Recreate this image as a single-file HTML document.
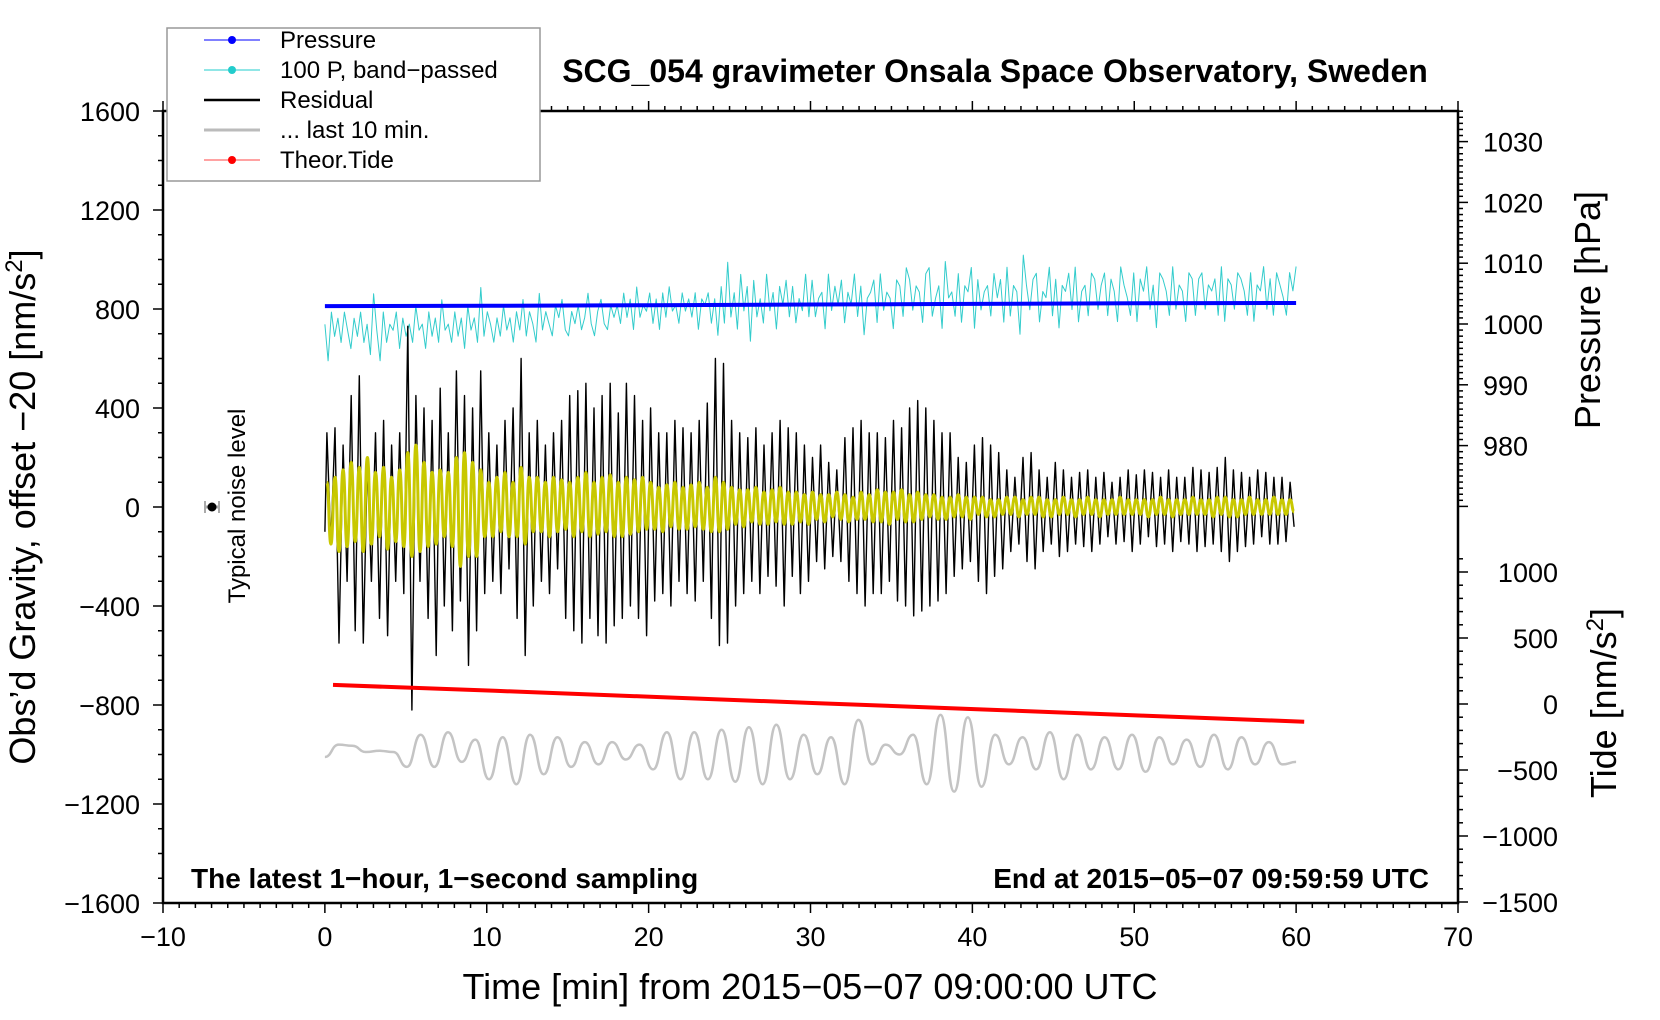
<!DOCTYPE html>
<html><head><meta charset="utf-8"><style>
html,body{margin:0;padding:0;background:#fff}
svg{display:block;font-family:"Liberation Sans",Arial,sans-serif}
</style></head><body>
<svg id="chart" width="1660" height="1020" viewBox="0 0 1660 1020" xmlns="http://www.w3.org/2000/svg">
<rect width="1660" height="1020" fill="#fff"/>
<g id="series"></g>
<g id="axes"></g>
<rect x="163" y="111" width="1295" height="792" fill="none" stroke="#000" stroke-width="2.5"/>
<text x="995" y="82" font-size="32" font-weight="bold" text-anchor="middle">SCG_054 gravimeter Onsala Space Observatory, Sweden</text>
<text x="191" y="888" font-size="28" font-weight="bold">The latest 1−hour, 1−second sampling</text>
<text x="1429" y="888" font-size="28" font-weight="bold" text-anchor="end">End at 2015−05−07 09:59:59 UTC</text>
<text x="810" y="999" font-size="36" text-anchor="middle">Time [min] from 2015−05−07 09:00:00 UTC</text>
<text transform="translate(35,507) rotate(-90)" font-size="36" text-anchor="middle">Obs’d Gravity, offset −20 [nm/s<tspan dy="-13" font-size="24">2</tspan><tspan dy="13">]</tspan></text>
<text transform="translate(1600,310) rotate(-90)" font-size="36" text-anchor="middle">Pressure [hPa]</text>
<text transform="translate(1616,703) rotate(-90)" font-size="36" text-anchor="middle">Tide [nm/s<tspan dy="-13" font-size="24">2</tspan><tspan dy="13">]</tspan></text>
<g>
<line x1="205" y1="507" x2="219" y2="507" stroke="#aaa" stroke-width="3"/>
<line x1="205" y1="501" x2="205" y2="513" stroke="#aaa" stroke-width="2"/>
<line x1="219" y1="501" x2="219" y2="513" stroke="#aaa" stroke-width="2"/>
<circle cx="212" cy="507" r="4.5" fill="#000"/>
<text transform="translate(245,506) rotate(-90)" font-size="24" text-anchor="middle">Typical noise level</text>
</g>
<g>
<rect x="167" y="28" width="373" height="153" fill="#fff" stroke="#999" stroke-width="1.5"/>
<g><line x1="204" y1="40" x2="260" y2="40" stroke="#00f" stroke-width="1"/><circle cx="232" cy="40" r="4" fill="#00f"/><text x="280" y="48" font-size="24">Pressure</text></g>
<g><line x1="204" y1="70" x2="260" y2="70" stroke="#2cc" stroke-width="1"/><circle cx="232" cy="70" r="4" fill="#2cc"/><text x="280" y="78" font-size="24">100 P, band−passed</text></g>
<g><line x1="204" y1="100" x2="260" y2="100" stroke="#000" stroke-width="2.5"/><text x="280" y="108" font-size="24">Residual</text></g>
<g><line x1="204" y1="130" x2="260" y2="130" stroke="#bbb" stroke-width="3"/><text x="280" y="138" font-size="24">... last 10 min.</text></g>
<g><line x1="204" y1="160" x2="260" y2="160" stroke="#f44" stroke-width="1"/><circle cx="232" cy="160" r="4" fill="#f00"/><text x="280" y="168" font-size="24">Theor.Tide</text></g>
</g>
</svg>
<script>
// ---- data ----
const xTickLabels = [-10,0,10,20,30,40,50,60,70];
const gTickLabels = [-1600,-1200,-800,-400,0,400,800,1200,1600];
const pTickLabels = [980,990,1000,1010,1020,1030];
const tTickLabels = [-1500,-1000,-500,0,500,1000];
// pressure (hPa) every 10 min, 0..60
const pressureTimes = [0,10,20,30,40,50,60];
const pressureVals = [1002.95,1003.0,1003.1,1003.2,1003.3,1003.4,1003.45];
// theoretical tide (nm/s2) at times
const tideTimes = [0.5,10.5,20.5,30.5,40.5,50.5,60.5];
const tideVals = [145,100,53,6,-41,-88,-134];
// residual extremes, units of 10 nm/s2, 4 per minute
const residualVals = [
30,-15,32,-55, 25,-30,45,-50, 53,-55,20,-30, 30,-45,35,-52, 25,-30,30,-35,
73,-82,45,-30, 40,-45,35,-60, 48,-40,30,-50, 55,-38,45,-64, 40,-50,55,-35,
30,-30,25,-35, 35,-25,40,-45, 60,-60,30,-40, 35,-30,25,-35, 30,-25,35,-45,
45,-50,47,-55, 50,-45,40,-52, 45,-55,50,-48, 38,-45,50,-40, 45,-45,35,-52,
40,-38,30,-35, 30,-40,35,-30, 32,-35,30,-38, 35,-30,42,-45, 60,-56,58,-55,
35,-40,30,-35, 28,-30,32,-35, 25,-28,30,-32, 35,-40,32,-28, 30,-35,25,-30,
20,-22,25,-25, 18,-20,15,-22, 28,-30,32,-35, 35,-40,30,-35, 30,-35,28,-30,
35,-38,32,-40, 40,-44,43,-42, 40,-40,35,-38, 30,-35,30,-28, 20,-25,18,-22,
25,-30,28,-35, 25,-28,22,-25, 15,-18,12,-15, 20,-22,22,-25, 15,-18,12,-15,
18,-20,15,-18, 12,-15,14,-16, 15,-18,12,-15, 14,-12,10,-15, 12,-14,15,-18,
13,-15,15,-12, 14,-16,12,-15, 15,-18,12,-14, 12,-15,16,-18, 15,-16,14,-15,
16,-18,20,-22, 15,-18,14,-16, 12,-15,15,-12, 14,-15,12,-15, 12,-14,10,-8];
// filtered (yellow) extremes, units of 10 nm/s2, 4 per minute
const yellowVals = [
10,-15,12,-18, 15,-16,18,-14, 16,-18,20,-15, 14,-12,16,-17, 12,-14,15,-16,
22,-20,25,-18, 18,-16,14,-15, 15,-12,14,-16, 20,-24,22,-20, 18,-20,15,-12,
10,-12,12,-10, 14,-12,10,-12, 16,-15,12,-10, 12,-10,10,-12, 12,-10,11,-9,
10,-12,12,-10, 14,-12,10,-11, 12,-10,13,-12, 10,-12,12,-11, 11,-10,12,-9,
10,-9,8,-10, 9,-8,10,-9, 8,-9,9,-8, 10,-9,8,-10, 12,-10,10,-9,
8,-7,7,-8, 7,-6,8,-7, 6,-7,7,-6, 8,-7,6,-7, 6,-6,5,-7,
6,-5,5,-6, 5,-4,6,-5, 5,-6,4,-5, 6,-5,5,-6, 7,-6,6,-7,
6,-5,7,-6, 5,-6,6,-5, 5,-4,5,-5, 4,-5,4,-4, 5,-4,4,-5,
4,-3,4,-4, 3,-4,3,-3, 4,-3,4,-4, 3,-3,4,-3, 4,-4,3,-4,
3,-3,4,-3, 3,-4,3,-3, 4,-3,3,-4, 3,-3,3,-3, 4,-3,3,-3,
3,-3,3,-4, 3,-3,4,-3, 3,-4,3,-3, 3,-3,4,-3, 3,-3,3,-4,
4,-3,4,-4, 3,-4,3,-3, 4,-3,3,-3, 3,-3,4,-3, 3,-3,3,-2];
// last 10 min (gray), nm/s2 absolute, 72 points over 0..60 min
const lastVals = [-1010,-960,-965,-990,-985,-990,-1050,-920,-1050,-910,-1030,-940,-1100,-930,-1120,-920,-1080,-930,-1050,-950,-1040,-950,-1020,-960,-1060,-910,-1100,-910,-1100,-900,-1110,-890,-1120,-880,-1100,-920,-1080,-930,-1120,-860,-1040,-960,-1000,-920,-1120,-840,-1150,-850,-1130,-920,-1040,-930,-1060,-910,-1100,-920,-1060,-930,-1060,-920,-1070,-930,-1040,-940,-1050,-920,-1060,-930,-1040,-950,-1040,-1030];
// band-passed pressure x100 deviation from pressure line (hPa), 3 per minute
const cyanVals = [
-3,-9,-1, -5,-2,-6, -1,-4,-7, -2,-5,-1, -6,-3,-8, 2,-4,-9, -1,-6,-3, -4,-1,-7, -2,-5,-3, -6,0,-4,
-3,-7,-1, -5,-2,-6, 1,-4,-3, -6,-1,-5, -2,-7,0, -4,-2,-6, 3,-5,-1, -3,-6,-2, -5,0,-4, -2,-6,-1,
-4,1,-5, -1,-3,-6, 2,-4,-1, -3,-5,0, -2,1,-4, -5,-1,-3, 0,-4,-2, 2,-3,-5, -1,1,-3, -4,0,-2,
0,-3,2, -2,1,-4, 3,-2,0, -1,2,-3, 1,-4,2, -2,3,-1, 0,-3,2, -1,1,-2, 2,-4,1, 0,2,-3,
1,-5,3, -3,7,-2, 2,-4,5, -1,3,-6, 4,-2,1, -3,5,-1, 2,-4,3, 0,4,-2, 3,-3,1, -1,5,-2,
4,-2,1, 2,-4,5, -1,3,0, 4,-3,2, 0,5,-2, 3,-5,1, 2,4,-3, 5,-1,2, 1,-4,4, 3,-2,6,
4,-1,3, 2,-3,5, 6,-2,1, 3,-4,7, 1,2,-2, 5,-3,3, 2,6,-4, 4,-1,2, 3,-2,5, 1,4,-3,
6,-2,3, 2,-5,8, 3,-1,4, 5,-3,2, 1,6,-2, 4,-4,3, 2,5,-1, 6,-3,2, 3,-2,5, 4,-1,3,
5,-2,4, 2,-3,6, 3,1,-2, 5,-3,4, 2,6,-1, 3,-4,5, 4,2,-2, 6,-1,3, 2,-3,5, 4,-2,4,
5,-1,3, 2,4,-2, 6,-3,4, 3,-1,5, 4,2,-2, 5,-3,3, 2,6,-1, 4,-2,5, 3,1,-2, 5,2,6];

// ---- scales ----
const X = t => 163 + (t + 10) * 1295 / 80;
const YG = g => 507 - g * 792 / 3200;
const YP = p => 324 - (p - 1000) * 6.08;
const YT = v => 704 - v * 0.132;
const NS = 'http://www.w3.org/2000/svg';
const series = document.getElementById('series');
const axes = document.getElementById('axes');
function mk(tag, parent, attrs) { const e = document.createElementNS(NS, tag); for (const k in attrs) e.setAttribute(k, attrs[k]); parent.appendChild(e); return e; }
function poly(pts, stroke, w, name) {
  const e = mk('polyline', series, {points: pts.map(p => p[0].toFixed(1) + ',' + p[1].toFixed(1)).join(' '), fill: 'none', stroke: stroke, 'stroke-width': w, 'stroke-linejoin': 'round'});
  
  
}
function smooth(pts, stroke, w, name) {
  let d = 'M' + pts[0][0].toFixed(1) + ',' + pts[0][1].toFixed(1);
  for (let i = 1; i < pts.length; i++) {
    const a = pts[i - 1], b = pts[i], mx = (a[0] + b[0]) / 2;
    d += ' C' + mx.toFixed(1) + ',' + a[1].toFixed(1) + ' ' + mx.toFixed(1) + ',' + b[1].toFixed(1) + ' ' + b[0].toFixed(1) + ',' + b[1].toFixed(1);
  }
  const e = mk('path', series, {d: d, fill: 'none', stroke: stroke, 'stroke-width': w});
  
  
}
// gray last-10-min
smooth(lastVals.map((v, i) => [X(i * 60 / (lastVals.length - 1)), YG(v)]), '#c4c4c4', 2.5, 'last-10-min-line');
// cyan
const nC = cyanVals.length;
poly(cyanVals.map((v, i) => { const t = i * 60 / (nC - 1); const k = Math.min(5, Math.floor(t / 10)); const p = pressureVals[k] + (pressureVals[k + 1] - pressureVals[k]) * (t - pressureTimes[k]) / 10; return [X(t), YP(p + v)]; }), '#3cc', 1, 'bandpassed-pressure-line');
// residual
poly([[X(0), YG(-100)]].concat(residualVals.map((v, i) => [X((i + 0.5) * 0.25), YG(v * 10)])), '#000', 1.4, 'residual-line');
// yellow
smooth(yellowVals.map((v, i) => [X((i + 0.5) * 0.25), YG(v * 10)]), '#c8c800', 3, 'filtered-residual-line');
// pressure
poly(pressureVals.map((v, i) => [X(pressureTimes[i]), YP(v)]), '#00f', 4, 'pressure-line');
// tide
poly(tideVals.map((v, i) => [X(tideTimes[i]), YT(v)]), '#f00', 4, 'tide-line');

// ---- axes ----
function tick(x1, y1, x2, y2) { mk('line', axes, {x1, y1, x2, y2, stroke: '#000', 'stroke-width': 1.5}); }
function label(x, y, txt, anchor, name) {
  const e = mk('text', axes, {x, y, 'font-size': 27, 'text-anchor': anchor});
  e.textContent = String(txt).replace('-', '−');
  
  
}
for (let t = -10; t <= 70; t++) { const x = X(t); const L = t % 10 === 0 ? 10 : 5; tick(x, 903, x, 903 + L); tick(x, 111, x, 111 - L); }
xTickLabels.forEach(t => label(X(t), 946, t, 'middle', 'x-tick-label'));
for (let g = -1600; g <= 1600; g += 100) { const y = YG(g); tick(163, y, 163 - (g % 400 === 0 ? 10 : 5), y); }
gTickLabels.forEach(g => label(140, YG(g) + 10, g, 'end', 'y-tick-label'));
for (let p = 969; p <= 1035; p++) { const y = YP(p); if (y < 111 || y > 507) continue; tick(1458, y, 1458 + (p % 10 === 0 ? 10 : 5), y); }
pTickLabels.forEach(p => label(1483, YP(p) + 10, p, 'start', 'pressure-tick-label'));
for (let v = -1500; v <= 1100; v += 100) { const y = YT(v); tick(1458, y, 1458 + (v % 500 === 0 ? 10 : 5), y); }
tTickLabels.forEach(v => label(1558, YT(v) + 10, v, 'end', 'tide-tick-label'));
</script>
</body></html>
